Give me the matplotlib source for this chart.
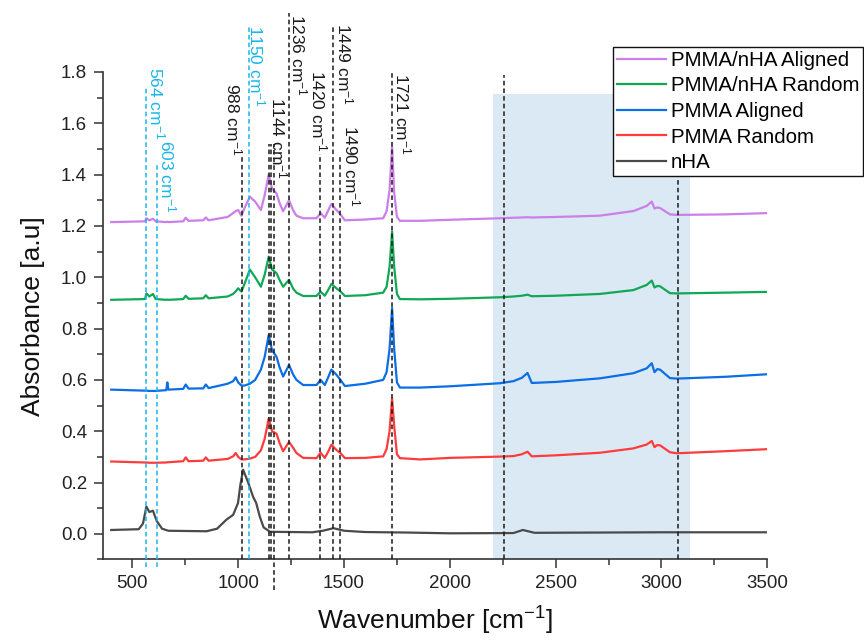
import matplotlib
matplotlib.use('Agg')
import matplotlib.pyplot as plt
from matplotlib.ticker import MultipleLocator, FormatStrFormatter

plt.rcParams['font.family'] = ['Liberation Sans', 'DejaVu Sans']
plt.rcParams['mathtext.fontset'] = 'custom'
plt.rcParams['mathtext.rm'] = 'Liberation Sans'
plt.rcParams['mathtext.it'] = 'Liberation Sans:italic'

# wavenumber grid shared by the four PMMA spectra
wn = [400, 560, 566, 580, 597, 610, 660, 665, 670, 740,
      752, 765, 835, 847, 860, 950, 976, 988, 1000, 1015,
      1030, 1055, 1080, 1107, 1125, 1144, 1160, 1181, 1195, 1212,
      1240, 1260, 1275, 1307, 1370, 1389, 1409, 1425, 1440, 1464,
      1483, 1504, 1600, 1685, 1701, 1715, 1727, 1737, 1750, 1764,
      1860, 2000, 2237, 2300, 2340, 2367, 2387, 2500, 2709, 2867,
      2930, 2954, 2967, 2980, 2993, 3040, 3072, 3300, 3500]

pmma_random = [0.282, 0.278, 0.278, 0.277, 0.277, 0.277, 0.278, 0.279, 0.279, 0.283,
               0.298, 0.283, 0.285, 0.298, 0.285, 0.292, 0.302, 0.315, 0.300, 0.290,
               0.290, 0.293, 0.300, 0.325, 0.370, 0.450, 0.400, 0.390, 0.355, 0.322,
               0.358, 0.335, 0.315, 0.296, 0.295, 0.316, 0.296, 0.320, 0.347, 0.327,
               0.315, 0.295, 0.296, 0.302, 0.330, 0.400, 0.528, 0.420, 0.310, 0.295,
               0.290, 0.296, 0.301, 0.303, 0.310, 0.320, 0.302, 0.306, 0.316, 0.333,
               0.348, 0.362, 0.338, 0.346, 0.345, 0.318, 0.314, 0.322, 0.330]

pmma_aligned = [0.562, 0.558, 0.558, 0.557, 0.557, 0.557, 0.560, 0.590, 0.562, 0.565,
                0.582, 0.566, 0.567, 0.582, 0.568, 0.585, 0.595, 0.610, 0.590, 0.578,
                0.578, 0.585, 0.600, 0.640, 0.690, 0.775, 0.715, 0.690, 0.650, 0.613,
                0.658, 0.620, 0.600, 0.580, 0.580, 0.600, 0.580, 0.610, 0.640, 0.620,
                0.600, 0.576, 0.585, 0.600, 0.630, 0.720, 0.880, 0.720, 0.590, 0.570,
                0.570, 0.575, 0.587, 0.595, 0.608, 0.627, 0.588, 0.592, 0.606, 0.626,
                0.645, 0.665, 0.630, 0.642, 0.640, 0.607, 0.605, 0.612, 0.622]

nha_random = [0.912, 0.915, 0.937, 0.925, 0.935, 0.915, 0.912, 0.913, 0.912, 0.915,
              0.928, 0.916, 0.918, 0.930, 0.918, 0.925, 0.935, 0.945, 0.957, 0.944,
              0.975, 1.030, 1.000, 0.963, 1.010, 1.080, 1.030, 1.016, 0.990, 0.963,
              0.990, 0.955, 0.940, 0.927, 0.927, 0.944, 0.928, 0.950, 0.974, 0.957,
              0.945, 0.927, 0.930, 0.940, 0.963, 1.040, 1.178, 1.040, 0.935, 0.915,
              0.914, 0.916, 0.922, 0.925, 0.928, 0.932, 0.926, 0.928, 0.935, 0.950,
              0.970, 0.987, 0.960, 0.966, 0.965, 0.938, 0.937, 0.940, 0.943]

nha_aligned = [1.215, 1.218, 1.230, 1.222, 1.228, 1.218, 1.215, 1.216, 1.215, 1.218,
               1.232, 1.220, 1.222, 1.233, 1.222, 1.235, 1.250, 1.258, 1.262, 1.240,
               1.270, 1.314, 1.295, 1.262, 1.320, 1.400, 1.345, 1.327, 1.290, 1.257,
               1.300, 1.260, 1.240, 1.230, 1.230, 1.250, 1.232, 1.260, 1.286, 1.262,
               1.245, 1.222, 1.225, 1.230, 1.257, 1.340, 1.509, 1.330, 1.235, 1.220,
               1.220, 1.224, 1.230, 1.232, 1.233, 1.234, 1.233, 1.235, 1.240, 1.258,
               1.278, 1.295, 1.268, 1.272, 1.270, 1.245, 1.243, 1.245, 1.250]

# pure nHA spectrum
wn_nha = [400, 530, 550, 566, 580, 597, 615, 640, 670, 850,
          900, 944, 976, 999, 1010, 1023, 1047, 1070, 1085, 1102,
          1120, 1150, 1350, 1400, 1450, 1500, 1600, 1800, 2000, 2300,
          2345, 2400, 3000, 3500]
nha = [0.015, 0.018, 0.040, 0.106, 0.085, 0.090, 0.050, 0.020, 0.012, 0.010,
       0.020, 0.055, 0.074, 0.120, 0.190, 0.250, 0.200, 0.145, 0.120, 0.067,
       0.025, 0.008, 0.006, 0.012, 0.022, 0.012, 0.007, 0.005, 0.002, 0.003,
       0.015, 0.004, 0.006, 0.006]

# marker lines: position, bottom, top, colour
mark_x = [566, 615, 1018, 1050, 1147, 1157, 1167, 1239, 1388, 1446, 1483, 1727, 2257, 3080]
mark_lo = [-0.13, -0.13, -0.1, -0.1, -0.1, -0.1, -0.22, -0.1, -0.1, -0.1, -0.1, -0.1, -0.1, -0.1]
mark_hi = [1.737, 1.445, 1.47, 1.98, 1.52, 1.52, 1.52, 2.03, 1.48, 1.98, 1.47, 1.80, 1.79, 1.6]
mark_c = ['c', 'c', 'k', 'c', 'k', 'k', 'k', 'k', 'k', 'k', 'k', 'k', 'k', 'k']

# peak labels: text, x, top, colour
lab_txt = ['564', '603', '988', '1150', '1144', '1236', '1420', '1449', '1490', '1721']
lab_x = [616, 664, 979, 1086, 1192, 1286, 1381, 1504, 1535, 1775]
lab_top = [1.82, 1.535, 1.757, 1.983, 1.704, 2.028, 1.808, 1.99, 1.594, 1.795]
lab_c = ['c', 'c', 'k', 'c', 'k', 'k', 'k', 'k', 'k', 'k']

cyan = '#17b6ea'
cols = {'c': cyan, 'k': '#1a1a1a'}

fig = plt.figure(figsize=(8.64, 6.4), dpi=100)
ax = fig.add_axes([0.1192, 0.1258, 0.7689, 0.7617])

ax.axvspan(2205, 3137, ymin=0, ymax=(1.714 + 0.1) / 1.9, color='#dbe9f4', lw=0, zorder=0)

l5, = ax.plot(wn_nha, nha, color='#4a4a4a', lw=1.6, label='nHA')
l4, = ax.plot(wn, pmma_random, color='#ff3b3b', lw=1.6, label='PMMA Random')
l3, = ax.plot(wn, pmma_aligned, color='#0a6ee6', lw=1.6, label='PMMA Aligned')
l2, = ax.plot(wn, nha_random, color='#10a855', lw=1.6, label='PMMA/nHA Random')
l1, = ax.plot(wn, nha_aligned, color='#cc7fe8', lw=1.6, label='PMMA/nHA Aligned')

for x, lo, hi, c in zip(mark_x, mark_lo, mark_hi, mark_c):
    ax.plot([x, x], [lo, hi], color=cols[c], lw=1.1, ls=(0, (3, 2)), clip_on=False, zorder=3)

for t, x, y, c in zip(lab_txt, lab_x, lab_top, lab_c):
    ax.text(x, y, t + ' cm$^{-1}$', rotation=270, ha='center', va='top',
            fontsize=12.5, color=cols[c])

ax.set_xlim(361, 3500)
ax.set_ylim(-0.1, 1.8)
ax.spines['top'].set_visible(False)
ax.spines['right'].set_visible(False)
for s in ['left', 'bottom']:
    ax.spines[s].set_linewidth(1.2)
    ax.spines[s].set_color('#333333')
ax.xaxis.set_major_locator(MultipleLocator(500))
ax.xaxis.set_minor_locator(MultipleLocator(250))
ax.yaxis.set_major_locator(MultipleLocator(0.2))
ax.yaxis.set_minor_locator(MultipleLocator(0.1))
ax.yaxis.set_major_formatter(FormatStrFormatter('%.1f'))
ax.tick_params(which='major', length=6.5, width=1.1, labelsize=13.5, color='#333333',
               labelcolor='#222222', pad=5)
ax.tick_params(which='minor', length=4, width=1.1, color='#333333')

ax.set_xlabel('Wavenumber [cm$^{-1}$]', fontsize=19, labelpad=9, color='#111111')
ax.set_ylabel('Absorbance [a.u]', fontsize=19, labelpad=11, color='#111111')

leg = fig.legend(handles=[l1, l2, l3, l4, l5], loc='upper right',
                 bbox_to_anchor=(0.999, 0.927), bbox_transform=fig.transFigure,
                 fontsize=14.8, frameon=True, fancybox=False, framealpha=1,
                 edgecolor='#111111', borderpad=0.2, labelspacing=0.32,
                 handlelength=2.4, handletextpad=0.2, borderaxespad=0)
leg.get_frame().set_linewidth(1.0)
leg.set_zorder(10)

fig.savefig('out.png', dpi=100)
